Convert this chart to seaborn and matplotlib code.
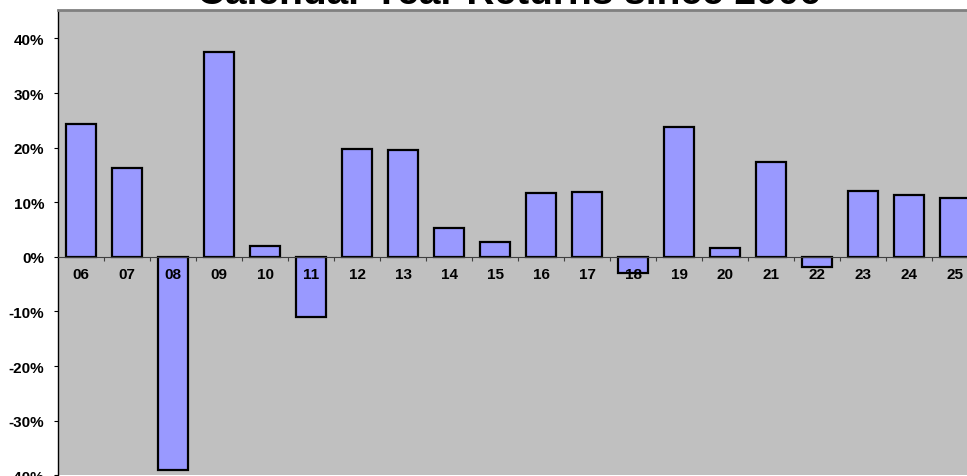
import matplotlib
matplotlib.use("Agg")
import matplotlib.pyplot as plt
from matplotlib.ticker import FixedLocator
import pandas as pd
import seaborn as sns

years = ["06", "07", "08", "09", "10", "11", "12", "13", "14", "15",
         "16", "17", "18", "19", "20", "21", "22", "23", "24", "25"]
returns = [24.4, 16.3, -39.0, 37.6, 1.9, -11.0, 19.7, 19.6, 5.2, 2.8,
           11.7, 11.9, -3.0, 23.7, 1.7, 17.4, -1.8, 12.1, 11.3, 10.7]
ytick_vals = [-40, -30, -20, -10, 0, 10, 20, 30, 40]

df = pd.DataFrame({"year": years, "ret": returns})

sns.set_style("white")
plt.rcParams["font.family"] = ["Liberation Sans", "DejaVu Sans"]
plt.rcParams["font.weight"] = "bold"
plt.rcParams["text.color"] = "black"

fig = plt.figure(figsize=(9.67, 4.77), dpi=100)
ax = fig.add_axes([58 / 967, 0.7 / 477, 920 / 967, 465.3 / 477])
ax.set_facecolor("#C0C0C0")

sns.barplot(data=df, x="year", y="ret", color="#9999FF", saturation=1,
            width=0.65, edgecolor="black", linewidth=1.6, ax=ax)

ax.set_xlim(-0.5, len(years) - 0.5)
ax.set_ylim(-40, 45.2)
ax.set_xlabel("")
ax.set_ylabel("")

# y axis
ax.set_yticks(ytick_vals)
ax.set_yticklabels([f"{v}%" for v in ytick_vals], fontsize=11, fontweight="bold")
ax.tick_params(axis="y", direction="out", length=3, width=0.8, color="black",
               labelcolor="black", pad=7, left=True)

# x axis sits on the zero line, ticks between categories, labels drawn over bars
ax.spines["bottom"].set_position(("data", 0))
ax.spines["bottom"].set_color("#404040")
ax.spines["bottom"].set_linewidth(0.8)
ax.tick_params(axis="x", which="major", length=0, pad=7.5, labelsize=11, labelcolor="black")
for lbl in ax.get_xticklabels():
    lbl.set_fontweight("bold")
ax.xaxis.set_minor_locator(FixedLocator([i + 0.5 for i in range(len(years))]))
ax.tick_params(axis="x", which="minor", direction="out", length=3, width=0.8,
               color="#404040", bottom=True)
ax.xaxis.set_zorder(5)
ax.spines["bottom"].set_zorder(5)

ax.spines["left"].set_color("black")
ax.spines["left"].set_linewidth(1.0)
ax.spines["top"].set_color("#808080")
ax.spines["top"].set_linewidth(2)
ax.spines["right"].set_visible(False)

fig.text(509 / 967, 1 - 3.5 / 477, "Calendar Year Returns since 2006",
         ha="center", va="baseline", fontsize=28, fontweight="bold", color="black")

fig.savefig("out.png", dpi=100)
